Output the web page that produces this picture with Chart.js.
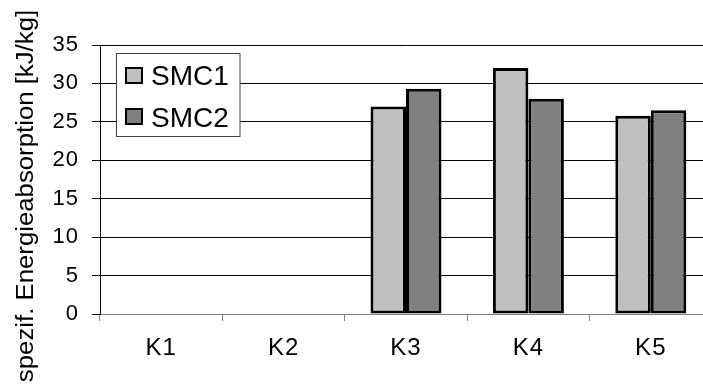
<!DOCTYPE html>
<html>
<head>
<meta charset="utf-8">
<script src="https://cdn.jsdelivr.net/npm/chart.js@4/dist/chart.umd.min.js"></script>
<style>
  html, body { margin: 0; padding: 0; background: #fff; overflow: hidden; }
  #wrap { position: relative; width: 712px; height: 385px; }
</style>
</head>
<body>
<div id="wrap"><canvas id="c" width="712" height="385"></canvas></div>
<script>
// Specific energy absorption per specimen group
const categories = ['K1', 'K2', 'K3', 'K4', 'K5'];
const seriesNames = ['SMC1', 'SMC2'];
const smc1 = [null, null, 27.0, 32.0, 25.8];
const smc2 = [null, null, 29.3, 28.0, 26.5];
const yTicks = [0, 5, 10, 15, 20, 25, 30, 35];
const yTitle = 'spezif. Energieabsorption [kJ/kg]';

const FONT = '"Liberation Sans", Arial, sans-serif';
const seriesColors = ['#c0c0c0', '#808080'];

// Slightly wide text, like the original axis lettering
const spacing = {
  id: 'spacing',
  beforeLayout(chart) { chart.ctx.letterSpacing = '1px'; },
  beforeDraw(chart) { chart.ctx.letterSpacing = '1px'; }
};

// Rotated y-axis title, centred on the full canvas height
const axisTitle = {
  id: 'axisTitle',
  afterDraw(chart) {
    const ctx = chart.ctx;
    ctx.save();
    ctx.letterSpacing = '0px';
    ctx.translate(33, 196);
    ctx.rotate(-Math.PI / 2);
    ctx.scale(1.12, 1);
    ctx.font = '23px ' + FONT;
    ctx.fillStyle = '#000';
    ctx.textAlign = 'center';
    ctx.textBaseline = 'alphabetic';
    ctx.fillText(yTitle, 0, 0);
    ctx.restore();
  }
};

// Boxed legend inside the plot area
const boxLegend = {
  id: 'boxLegend',
  afterDraw(chart) {
    const ctx = chart.ctx;
    ctx.save();
    ctx.letterSpacing = '0px';
    ctx.fillStyle = '#fff';
    ctx.fillRect(116.5, 53.5, 123.5, 83);
    ctx.strokeStyle = '#404040';
    ctx.lineWidth = 1;
    ctx.strokeRect(116.5, 53.5, 123.5, 83);
    const rows = [{ sw: 68, base: 85 }, { sw: 109, base: 126.5 }];
    chart.data.datasets.forEach((ds, i) => {
      const r = rows[i];
      ctx.fillStyle = ds.backgroundColor;
      ctx.fillRect(126, r.sw, 16, 15);
      ctx.strokeStyle = '#000';
      ctx.lineWidth = 2;
      ctx.strokeRect(126, r.sw, 16, 15);
      ctx.fillStyle = '#000';
      ctx.font = '28px ' + FONT;
      ctx.textAlign = 'left';
      ctx.textBaseline = 'alphabetic';
      ctx.fillText(ds.label, 151, r.base);
    });
    ctx.restore();
  }
};

const barStyle = {
  borderColor: '#000',
  borderWidth: 3,
  borderSkipped: false,
  categoryPercentage: 0.58,
  barPercentage: 1.0
};

new Chart(document.getElementById('c'), {
  type: 'bar',
  data: {
    labels: categories,
    datasets: [
      Object.assign({ label: seriesNames[0], data: smc1, backgroundColor: seriesColors[0] }, barStyle),
      Object.assign({ label: seriesNames[1], data: smc2, backgroundColor: seriesColors[1] }, barStyle)
    ]
  },
  options: {
    responsive: false,
    animation: false,
    devicePixelRatio: 1,
    layout: { padding: { top: 45, right: 0, left: 0, bottom: 0 } },
    plugins: {
      legend: { display: false },
      tooltip: { enabled: false }
    },
    scales: {
      x: {
        offset: true,
        grid: {
          offset: true,
          drawOnChartArea: false,
          drawTicks: true,
          tickLength: 7,
          tickColor: '#808080'
        },
        border: { display: true, color: '#808080', width: 1 },
        ticks: { color: '#000', font: { family: FONT, size: 24 }, padding: 13 },
        afterFit(scale) { scale.height = 71; }
      },
      y: {
        min: 0,
        max: 35,
        afterBuildTicks(scale) { scale.ticks = yTicks.map(v => ({ value: v })); },
        grid: {
          color: ctx => (ctx.tick && ctx.tick.value === 0 ? '#808080' : '#000'),
          lineWidth: 1,
          drawTicks: true,
          tickLength: 8,
          tickColor: '#000'
        },
        border: { display: true, color: '#000', width: 1 },
        ticks: { color: '#000', font: { family: FONT, size: 22 }, padding: 13 },
        afterFit(scale) { scale.width = 100; }
      }
    }
  },
  plugins: [spacing, axisTitle, boxLegend]
});
</script>
</body>
</html>
